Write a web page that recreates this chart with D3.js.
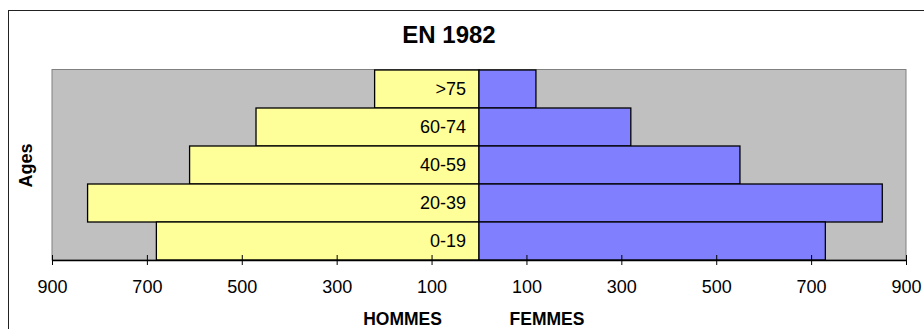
<!DOCTYPE html>
<html>
<head>
<meta charset="utf-8">
<script src="https://cdn.jsdelivr.net/npm/d3@7"></script>
<style>
  html, body { margin: 0; padding: 0; background: #fff; }
  svg { display: block; font-family: "Liberation Sans", Arial, sans-serif; }
</style>
</head>
<body>
<svg id="chart" width="924" height="329"></svg>
<script>
const categories = [">75", "60-74", "40-59", "20-39", "0-19"];
const hommes = [220, 470, 610, 825, 680];
const femmes = [120, 320, 550, 850, 730];
const tickValues = [-900, -700, -500, -300, -100, 100, 300, 500, 700, 900];
const title = "EN 1982";
const yTitle = "Ages";
const xTitleLeft = "HOMMES";
const xTitleRight = "FEMMES";

const svg = d3.select("#chart");

// outer chart frame
svg.append("rect")
  .attr("x", 8.5).attr("y", 10.5)
  .attr("width", 940).attr("height", 340)
  .attr("fill", "#fff").attr("stroke", "#222").attr("stroke-width", 1);

const plot = { left: 52, right: 906, top: 70, bottom: 260 };

const x = d3.scaleLinear().domain([-900, 900]).range([plot.left, plot.right]);
const y = d3.scaleBand().domain(categories).range([plot.top, plot.bottom]).padding(0);

// plot area
svg.append("rect")
  .attr("x", plot.left).attr("y", plot.top - 0.5)
  .attr("width", plot.right - plot.left).attr("height", plot.bottom - plot.top + 0.5)
  .attr("fill", "#C0C0C0").attr("stroke", "#808080").attr("stroke-width", 1);

// men bars (left)
svg.append("g").selectAll("rect")
  .data(categories.map((c, i) => ({ c, v: hommes[i] })))
  .join("rect")
  .attr("x", d => x(-d.v))
  .attr("y", d => y(d.c))
  .attr("width", d => x(0) - x(-d.v))
  .attr("height", y.bandwidth())
  .attr("fill", "#FFFF99").attr("stroke", "#000").attr("stroke-width", 1.3);

// women bars (right)
svg.append("g").selectAll("rect")
  .data(categories.map((c, i) => ({ c, v: femmes[i] })))
  .join("rect")
  .attr("x", x(0))
  .attr("y", d => y(d.c))
  .attr("width", d => x(d.v) - x(0))
  .attr("height", y.bandwidth())
  .attr("fill", "#8080FF").attr("stroke", "#000").attr("stroke-width", 1.3);

// category labels
svg.append("g").selectAll("text")
  .data(categories)
  .join("text")
  .attr("x", x(0) - 13)
  .attr("y", d => y(d) + y.bandwidth() / 2 + 6.3)
  .attr("text-anchor", "end")
  .attr("font-size", 18)
  .attr("fill", "#000")
  .text(d => d);

// x axis
const xAxis = d3.axisBottom(x)
  .tickValues(tickValues)
  .tickFormat(d => Math.abs(d))
  .tickSizeInner(5)
  .tickSizeOuter(0)
  .tickPadding(15);

const gx = svg.append("g")
  .attr("transform", `translate(0,${plot.bottom})`)
  .call(xAxis);
gx.select(".domain").attr("stroke", "#000").attr("stroke-width", 1.3);
gx.selectAll(".tick line").attr("y1", -5).attr("y2", 5).attr("stroke", "#000");
gx.selectAll(".tick text")
  .attr("font-family", "Liberation Sans, Arial, sans-serif")
  .attr("font-size", 18).attr("fill", "#000");

// title
svg.append("text")
  .attr("x", 449).attr("y", 43)
  .attr("text-anchor", "middle")
  .attr("font-size", 24).attr("font-weight", "bold")
  .text(title);

// y axis title
svg.append("text")
  .attr("transform", "translate(32,165.5) rotate(-90)")
  .attr("text-anchor", "middle")
  .attr("font-size", 18).attr("font-weight", "bold")
  .text(yTitle);

// x axis titles
svg.append("text")
  .attr("x", 402.5).attr("y", 325)
  .attr("text-anchor", "middle")
  .attr("font-size", 17.5).attr("font-weight", "bold")
  .text(xTitleLeft);
svg.append("text")
  .attr("x", 547).attr("y", 325)
  .attr("text-anchor", "middle")
  .attr("font-size", 17.5).attr("font-weight", "bold")
  .text(xTitleRight);
</script>
</body>
</html>
